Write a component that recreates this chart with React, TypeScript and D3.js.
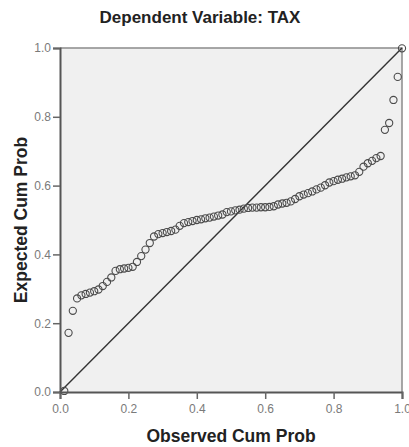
import React, { useEffect, useRef } from 'react';
import * as d3 from 'd3';

const title = 'Dependent Variable: TAX';
const xTitle = 'Observed Cum Prob';
const yTitle = 'Expected Cum Prob';
const tickValues = [0, 0.2, 0.4, 0.6, 0.8, 1.0];

// observed cumulative probability (i/80)
const observed = [
  0.0125, 0.025, 0.0375, 0.05, 0.0625, 0.075, 0.0875, 0.1, 0.1125, 0.125,
  0.1375, 0.15, 0.1625, 0.175, 0.1875, 0.2, 0.2125, 0.225, 0.2375, 0.25,
  0.2625, 0.275, 0.2875, 0.3, 0.3125, 0.325, 0.3375, 0.35, 0.3625, 0.375,
  0.3875, 0.4, 0.4125, 0.425, 0.4375, 0.45, 0.4625, 0.475, 0.4875, 0.5,
  0.5125, 0.525, 0.5375, 0.55, 0.5625, 0.575, 0.5875, 0.6, 0.6125, 0.625,
  0.6375, 0.65, 0.6625, 0.675, 0.6875, 0.7, 0.7125, 0.725, 0.7375, 0.75,
  0.7625, 0.775, 0.7875, 0.8, 0.8125, 0.825, 0.8375, 0.85, 0.8625, 0.875,
  0.8875, 0.9, 0.9125, 0.925, 0.9375, 0.95, 0.9625, 0.975, 0.9875, 1.0,
];

// expected cumulative probability
const expected = [
  0.003, 0.172, 0.236, 0.272, 0.281, 0.285, 0.289, 0.293, 0.298, 0.308,
  0.32, 0.333, 0.352, 0.357, 0.359, 0.361, 0.364, 0.378, 0.395, 0.414,
  0.433, 0.452, 0.459, 0.462, 0.465, 0.468, 0.472, 0.483, 0.491, 0.494,
  0.497, 0.5, 0.502, 0.505, 0.507, 0.51, 0.513, 0.516, 0.523, 0.525,
  0.528, 0.53, 0.533, 0.535, 0.536, 0.536, 0.537, 0.537, 0.538, 0.54,
  0.545, 0.548, 0.55, 0.554, 0.561, 0.569, 0.574, 0.578, 0.583, 0.589,
  0.594, 0.601, 0.609, 0.613, 0.617, 0.62, 0.624, 0.627, 0.63, 0.64,
  0.655, 0.665, 0.672, 0.68, 0.686, 0.762, 0.782, 0.849, 0.916, 0.999,
];

const font = '"Liberation Sans", Arial, sans-serif';

const App = () => {
  const svgRef = useRef<SVGSVGElement>(null);

  useEffect(() => {
    const svg = d3.select(svgRef.current);
    svg.selectAll('*').remove();
    const left = 60, right = 402, top = 48, bottom = 392;

    const x = d3.scaleLinear().domain([0, 1]).range([left, right]);
    const y = d3.scaleLinear().domain([0, 1]).range([bottom, top]);

    svg.append('rect')
      .attr('x', left).attr('y', top)
      .attr('width', right - left).attr('height', bottom - top)
      .attr('fill', '#f0f0f0');

    // frame top/right
    svg.append('path')
      .attr('d', `M${left},${top}H${right}V${bottom}`)
      .attr('fill', 'none').attr('stroke', '#8a8a8a').attr('stroke-width', 1.5);

    // diagonal reference line
    svg.append('line')
      .attr('x1', x(0)).attr('y1', y(0)).attr('x2', x(1)).attr('y2', y(1))
      .attr('stroke', '#333').attr('stroke-width', 1.4);

    const pts = observed.map((o, i) => ({ o, e: expected[i] }));
    svg.append('g').selectAll('circle')
      .data(pts)
      .enter().append('circle')
        .attr('cx', d => x(d.o))
        .attr('cy', d => y(d.e))
        .attr('r', 3.6)
        .attr('fill', 'none')
        .attr('stroke', '#4a4a4a')
        .attr('stroke-width', 1.1);

    const fmt = d3.format('.1f');
    const xAxis = svg.append('g')
      .attr('transform', `translate(0,${bottom})`)
      .call(d3.axisBottom(x).tickValues(tickValues).tickFormat(d => fmt(d as number)).tickSize(7).tickPadding(5));
    const yAxis = svg.append('g')
      .attr('transform', `translate(${left},0)`)
      .call(d3.axisLeft(y).tickValues(tickValues).tickFormat(d => fmt(d as number)).tickSize(7).tickPadding(2));

    [xAxis, yAxis].forEach(a => {
      a.select('.domain').attr('stroke', '#555').attr('stroke-width', 2);
      a.selectAll('.tick line').attr('stroke', '#666').attr('stroke-width', 1.5);
      a.selectAll('.tick text')
        .attr('fill', '#7a7a7a')
        .style('font-family', font)
        .style('font-size', '12px');
    });

    svg.append('text')
      .attr('x', 200).attr('y', 23)
      .attr('text-anchor', 'middle')
      .style('font-family', font).style('font-weight', 'bold').style('font-size', '17px')
      .attr('fill', '#222')
      .text(title);

    svg.append('text')
      .attr('x', (left + right) / 2).attr('y', 442)
      .attr('text-anchor', 'middle')
      .style('font-family', font).style('font-weight', 'bold').style('font-size', '17.5px')
      .attr('fill', '#222')
      .text(xTitle);

    svg.append('text')
      .attr('transform', `translate(27,${(top + bottom) / 2}) rotate(-90)`)
      .attr('text-anchor', 'middle')
      .style('font-family', font).style('font-weight', 'bold').style('font-size', '17.5px')
      .attr('fill', '#222')
      .text(yTitle);
  }, []);

  return (
    <svg ref={svgRef} width={409} height={447}
      style={{ position: 'absolute', left: 0, top: 0, background: '#fff' }} />
  );
};

export default App;
